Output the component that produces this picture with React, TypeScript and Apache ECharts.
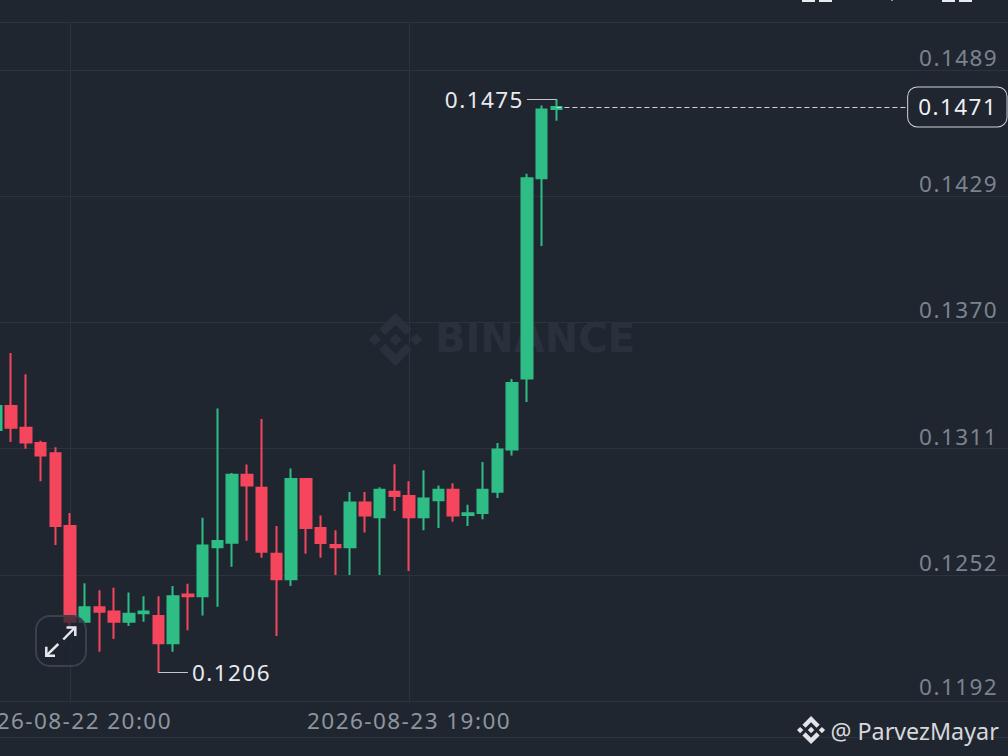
import React, { useEffect, useRef } from "react";
import * as echarts from "echarts";

const BG = "#1f2630";
const GRID = "#2c333f";
const UP = "#2ebd85";
const DOWN = "#f6465d";
const FONT = "'Noto Sans', sans-serif";
const FS = 22.5;

const hours: string[] = [];
for (let i = 0; i < 70; i++) {
  const t = new Date(Date.UTC(2026, 7, 22, 15 + i));
  const p = (n: number) => String(n).padStart(2, "0");
  hours.push(`${t.getUTCFullYear()}-${p(t.getUTCMonth() + 1)}-${p(t.getUTCDate())} ${p(t.getUTCHours())}:00`);
}
const labelledHours = ["2026-08-22 20:00", "2026-08-23 19:00"];

// open, close, low, high
const candles: number[][] = [
  [0.13195, 0.13308, 0.13167, 0.1336],
  [0.13308, 0.13206, 0.13139, 0.13557],
  [0.13206, 0.13137, 0.13107, 0.13458],
  [0.13135, 0.13076, 0.12955, 0.13145],
  [0.13086, 0.12745, 0.12655, 0.13114],
  [0.12744, 0.12294, 0.12269, 0.12805],
  [0.12294, 0.12362, 0.12288, 0.12475],
  [0.12363, 0.12341, 0.12153, 0.12443],
  [0.12343, 0.12294, 0.12213, 0.12454],
  [0.12294, 0.12332, 0.12274, 0.12432],
  [0.12334, 0.12343, 0.12294, 0.12414],
  [0.12321, 0.12193, 0.12056, 0.12414],
  [0.12193, 0.12414, 0.12153, 0.12462],
  [0.12423, 0.12414, 0.12254, 0.12473],
  [0.12414, 0.12653, 0.12324, 0.12783],
  [0.12644, 0.12674, 0.12365, 0.13297],
  [0.12666, 0.12985, 0.12553, 0.12994],
  [0.12985, 0.12935, 0.12675, 0.13034],
  [0.12924, 0.12623, 0.12595, 0.13247],
  [0.12614, 0.12494, 0.12227, 0.12744],
  [0.12494, 0.12965, 0.12463, 0.13015],
  [0.12965, 0.12735, 0.12614, 0.12965],
  [0.12735, 0.12664, 0.12595, 0.12794],
  [0.12655, 0.12645, 0.12514, 0.12725],
  [0.12645, 0.12855, 0.12514, 0.12904],
  [0.12855, 0.12794, 0.12714, 0.12904],
  [0.12785, 0.12915, 0.12514, 0.12926],
  [0.12905, 0.12885, 0.12815, 0.13035],
  [0.12885, 0.12785, 0.12533, 0.12955],
  [0.12785, 0.12874, 0.12725, 0.13006],
  [0.12865, 0.12915, 0.12735, 0.12935],
  [0.12915, 0.12794, 0.12764, 0.12945],
  [0.12796, 0.12804, 0.12744, 0.12844],
  [0.12805, 0.12915, 0.12776, 0.13045],
  [0.12905, 0.13104, 0.12876, 0.13135],
  [0.13104, 0.13416, 0.13076, 0.13435],
  [0.13438, 0.14379, 0.13327, 0.144],
  [0.14379, 0.14702, 0.1406, 0.14721],
  [0.14704, 0.14714, 0.14649, 0.14751],
];

const priceTicks = [0.11922, 0.12515, 0.13108, 0.13701, 0.14294, 0.14887];
const lastPrice = 0.14714;
const highPrice = 0.14751;
const lowPrice = 0.12056;
const highIndex = 38;
const lowIndex = 11;
const lastIndex = 38;

const LOGO =
  "M38.73 53.2l24.59-24.58 24.6 24.6 14.3-14.31L63.32 0 24.42 38.9zM0 63.31l14.3-14.31 14.31 14.31-14.31 14.3zM38.73 73.41l24.59 24.59 24.6-24.6 14.31 14.29-38.9 38.91-38.91-38.88-.02-.02zM98 63.31l14.3-14.31 14.31 14.31-14.31 14.3zM77.83 63.3L63.32 48.78 52.59 59.51l-1.24 1.23-2.54 2.54 14.51 14.5 14.51-14.47z";
echarts.graphic.registerShape("binanceLogo", echarts.graphic.extendPath(LOGO, {}));

export default function App() {
  const ref = useRef<HTMLDivElement>(null);
  useEffect(() => {
    document.body.style.margin = "0";
    const chart = echarts.init(ref.current!, undefined, { renderer: "svg" });
    const annotationLabel = {
      show: true,
      position: "end",
      distance: 4,
      color: "#e8eaed",
      fontFamily: FONT,
      fontSize: FS,
    };
    const line = { type: "solid", color: "#c4c7cc", width: 1 };
    chart.setOption({
      animation: false,
      backgroundColor: BG,
      grid: { left: -11.07, right: -12.7, top: 22, bottom: 55, containLabel: false, outerBoundsMode: "none" },
      xAxis: {
        type: "category",
        data: hours,
        boundaryGap: true,
        axisLine: { show: true, lineStyle: { color: GRID, width: 1 } },
        axisTick: { show: false },
        axisLabel: {
          interval: (_: number, v: string) => labelledHours.includes(v),
          color: "#8f959f",
          fontFamily: FONT,
          fontSize: FS,
          margin: 8,
          hideOverlap: false,
        },
        splitLine: {
          show: true,
          alignWithLabel: true,
          interval: (_: number, v: string) => labelledHours.includes(v),
          lineStyle: { color: GRID, width: 1 },
        },
      },
      yAxis: {
        type: "value",
        position: "right",
        min: 0.11922,
        max: 0.15113,
        axisLine: { show: false },
        axisTick: { show: false, customValues: priceTicks },
        axisLabel: {
          customValues: priceTicks,
          inside: true,
          margin: 22.5,
          align: "right",
          verticalAlign: "bottom",
          padding: [0, 0, 1, 0],
          color: "#7c838e",
          fontFamily: FONT,
          fontSize: FS,
          formatter: (v: number) =>
            v === priceTicks[0] ? `{low|${v.toFixed(4)}}` : v.toFixed(4),
          rich: { low: { padding: [0, 0, 2, 0], color: "#7c838e", fontFamily: FONT, fontSize: FS } },
        },
        splitLine: { show: true, lineStyle: { color: GRID, width: 1 } },
      },
      graphic: [
        { type: "line", z: 0, silent: true, shape: { x1: 0, y1: 22.5, x2: 1008, y2: 22.5 }, style: { stroke: GRID, lineWidth: 1 } },
        { type: "line", z: 0, silent: true, shape: { x1: 0, y1: 737.5, x2: 1008, y2: 737.5 }, style: { stroke: GRID, lineWidth: 1 } },
        { type: "binanceLogo", z: 1, silent: true, x: 369, y: 313, scaleX: 0.42, scaleY: 0.42, style: { fill: "#2a303c" } },
        { type: "text", z: 1, silent: true, x: 435, y: 338, style: { text: "BINANCE", fill: "#2a303c", font: `700 40px 'DejaVu Sans'`, textVerticalAlign: "middle" } },
        { type: "rect", z: 10, silent: true, shape: { x: 36, y: 616, width: 50, height: 50, r: 14 }, style: { fill: "rgba(31,38,48,0.72)", stroke: "#3a404c", lineWidth: 2 } },
        { type: "polyline", z: 11, silent: true, shape: { points: [[63.3, 639.5], [75, 627.5]] }, style: { stroke: "#e6e8eb", lineWidth: 2.5, fill: "none" } },
        { type: "polyline", z: 11, silent: true, shape: { points: [[66.5, 627.5], [75.3, 627.5], [75.3, 636]] }, style: { stroke: "#e6e8eb", lineWidth: 2.5, fill: "none" } },
        { type: "polyline", z: 11, silent: true, shape: { points: [[58.3, 644], [46.3, 655.7]] }, style: { stroke: "#e6e8eb", lineWidth: 2.5, fill: "none" } },
        { type: "polyline", z: 11, silent: true, shape: { points: [[46.3, 646.7], [46.3, 655.7], [55, 655.7]] }, style: { stroke: "#e6e8eb", lineWidth: 2.5, fill: "none" } },
        { type: "rect", z: 11, silent: true, shape: { x: 802, y: 0, width: 13, height: 2 }, style: { fill: "#e8eaed" } },
        { type: "rect", z: 11, silent: true, shape: { x: 819, y: 0, width: 13, height: 2 }, style: { fill: "#e8eaed" } },
        { type: "rect", z: 11, silent: true, shape: { x: 942, y: 0, width: 13, height: 2 }, style: { fill: "#e8eaed" } },
        { type: "rect", z: 11, silent: true, shape: { x: 959, y: 0, width: 13, height: 2 }, style: { fill: "#e8eaed" } },
        { type: "rect", z: 11, silent: true, shape: { x: 891, y: 0, width: 2, height: 1 }, style: { fill: "#8a8f97" } },
        { type: "binanceLogo", z: 11, silent: true, x: 797, y: 716, scaleX: 0.222, scaleY: 0.222, style: { fill: "#e2e4e7" } },
        { type: "text", z: 11, silent: true, x: 830.5, y: 731, style: { text: "@ ParvezMayar", fill: "#d6d8db", font: `400 23.3px ${FONT}`, textVerticalAlign: "middle" } },
      ],
      series: [
        {
          type: "candlestick",
          data: candles,
          barWidth: 11,
          itemStyle: { color: UP, color0: DOWN, borderColor: UP, borderColor0: DOWN, borderWidth: 2 },
          markLine: {
            silent: true,
            symbol: ["none", "none"],
            animation: false,
            data: [
              [
                {
                  coord: [lastIndex, lastPrice],
                  lineStyle: { type: [5, 3], color: "#d0d3d8", width: 1.2 },
                  label: {
                    show: true,
                    position: "end",
                    distance: -2,
                    color: "#f0f1f3",
                    fontFamily: FONT,
                    fontSize: FS,
                    backgroundColor: BG,
                    borderColor: "#d0d3d8",
                    borderWidth: 1,
                    borderRadius: 9,
                    padding: [8, 18, 8, 10],
                    formatter: () => lastPrice.toFixed(4),
                  },
                },
                { coord: [62, lastPrice] },
              ],
              [
                {
                  coord: [highIndex, highPrice],
                  lineStyle: line,
                  label: { ...annotationLabel, distance: 3, formatter: () => highPrice.toFixed(4) },
                },
                { coord: [highIndex - 2, highPrice] },
              ],
              [
                {
                  coord: [lowIndex, lowPrice],
                  lineStyle: line,
                  label: { ...annotationLabel, formatter: () => lowPrice.toFixed(4) },
                },
                { coord: [lowIndex + 2, lowPrice] },
              ],
            ],
          },
        },
      ],
    });
    return () => chart.dispose();
  }, []);
  return (
    <>
      <style>{"svg text{letter-spacing:1.45px} svg text[style*='23.3px'],svg text[style*='40px']{letter-spacing:0}"}</style>
      <div ref={ref} style={{ position: "absolute", left: 0, top: 0, width: 1008, height: 756 }} />
    </>
  );
}
